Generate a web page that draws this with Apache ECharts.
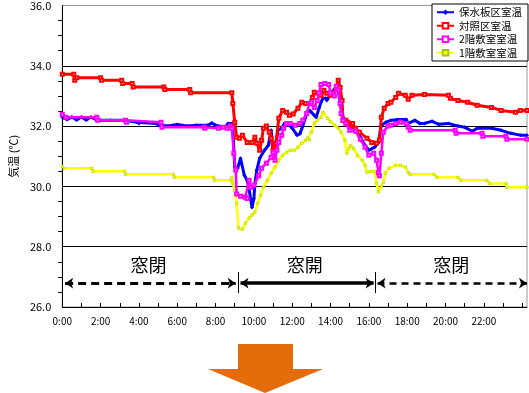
<!DOCTYPE html>
<html><head><meta charset="utf-8">
<script src="https://cdn.jsdelivr.net/npm/echarts@6/dist/echarts.min.js"></script>
<style>html,body{margin:0;padding:0;background:#fff}#c{width:529px;height:393px}</style>
</head><body><div id="c"></div><script>
// ---- data ----
const seriesNames = ['保水板区室温', '対照区室温', '2階敷室室温', '1階敷室室温'];
const yAxisName = '気温 (℃)';

const blueT = [0,0.25,0.5,0.75,1,1.25,1.5,1.75, 2,2.5,3.25,3.3,3.9,4,4.9,5, 5.5,6,6.5,7,7.6,7.8,8,8.3,
  8.5,8.65,8.85,8.9,9,9.15,9.3,9.5, 9.65,9.75,9.9,10,10.05,10.15,10.3,10.55, 10.75,10.9,11,11.05,11.25,11.45,11.6,11.75,
  12,12.25,12.4,12.55,12.75,12.9,13,13.15, 13.25,13.4,13.5,13.6,13.75,13.8,14.05,14.25, 14.4,14.5,14.65,14.75,15,15.3,15.55,15.8,
  16,16.15,16.3,16.5,16.65,16.9,17.15,17.5, 17.95,18.05,18.4,18.65,18.9,19.3,19.65,20.15, 20.65,21,21.4,21.65,22.4,22.9,23.4,23.9, 24.25];
const blueV = [32.29,32.22,32.3,32.2,32.3,32.2,32.3,32.22, 32.19,32.19,32.19,32.13,32.13,32.09,32.09,32.03, 32.0,32.05,32.0,32.03,32.03,32.1,32.03,31.98,
  31.96,32.09,32.09,31.9,30.64,30.6,30.93,30.37, 30.2,29.9,29.3,29.6,30.1,30.54,30.93,31.2, 31.36,31.86,31.13,30.9,31.86,31.93,32.09,32.09,
  31.93,31.7,31.75,32.0,32.4,32.52,32.46,32.36, 32.29,32.6,32.79,32.92,32.92,32.85,33.12,33.25, 33.2,32.75,32.29,32.09,31.96,31.93,31.63,31.36,
  31.2,31.25,31.3,31.46,32.03,32.13,32.19,32.22, 32.22,32.09,32.19,32.09,32.09,32.16,32.06,32.09, 32.0,31.96,31.83,31.93,31.93,31.86,31.76,31.7, 31.7];

const redT = [0,0.6,0.65,0.75,2.0,2.05,3.1,3.15, 3.65,3.7,5.3,5.35,6.65,6.7,8.85,8.9, 9.0,9.1,9.25,9.4,9.65,9.9,10.05,10.15,
  10.3,10.4,10.5,10.65,10.8,10.9,11.0,11.05, 11.15,11.3,11.5,11.7,11.85,12.05,12.3,12.5, 12.7,12.9,13.05,13.15,13.35,13.5,13.65,13.8,
  14.0,14.15,14.3,14.4,14.5,14.6,14.65,14.8, 14.9,15.05,15.15,15.3,15.5,15.9,16.15,16.4, 16.55,16.65,16.8,17.0,17.15,17.4,17.55,17.9,
  18.05,18.25,18.9,20.15,20.25,20.65,21.15,21.65, 22.4,22.9,23.65,23.9,24.25];
const redV = [33.72,33.72,33.52,33.6,33.6,33.52,33.52,33.41, 33.41,33.3,33.3,33.21,33.21,33.11,33.11,32.75, 32.13,31.63,31.6,31.7,31.46,31.46,31.63,31.43,
  31.2,31.53,31.93,32.0,31.8,31.6,31.2,30.97, 31.43,32.26,32.52,32.46,32.36,32.4,32.59,32.79, 32.75,32.75,32.95,33.12,33.09,33.02,33.19,33.09,
  33.02,33.09,33.28,33.52,33.28,32.85,32.19,32.19, 32.13,32.03,32.09,31.93,31.8,31.6,31.46,31.43, 31.53,32.29,32.59,32.75,32.79,32.95,33.09,33.02,
  32.89,33.02,33.05,33.02,32.92,32.85,32.79,32.69, 32.62,32.52,32.46,32.52,32.52];

const magentaT = [0,0.2,1.8,1.85,3.3,3.35,5.15,5.2, 7.4,7.45,8.15,8.4,8.6,8.75,8.85,8.95, 9.05,9.1,9.3,9.55,9.65,9.75,9.85,10.0,
  10.25,10.4,10.65,10.9,11.0,11.1,11.2,11.3, 11.45,11.55,11.7,11.9,12.15,12.4,12.55,12.75, 12.9,13.0,13.15,13.3,13.4,13.5,13.7,13.9,
  14.0,14.2,14.3,14.4,14.5,14.55,14.65,14.8, 15.0,15.3,15.55,15.8,16.0,16.25,16.4,16.5, 16.55,16.65,16.75,17.0,17.15,17.4,17.65,17.95,
  18.05,18.15,20.5,20.55,21.9,21.95,23.15,23.2, 24.25];
const magentaV = [32.39,32.29,32.29,32.19,32.19,32.13,32.13,31.96, 31.96,31.93,31.93,31.96,31.93,32.0,31.93,31.1, 30.54,29.75,29.67,29.64,29.6,30.2,29.97,30.04,
  30.35,30.6,30.77,30.97,31.13,30.87,31.2,31.46, 31.7,31.93,32.09,32.09,32.03,32.09,32.19,32.42, 32.75,32.79,32.62,32.85,33.1,33.38,33.41,33.38,
  33.1,33.0,33.32,33.2,32.75,32.42,32.19,32.09, 31.86,31.83,31.56,31.3,31.03,31.1,30.87,30.45, 30.35,31.1,31.8,32.0,32.03,32.09,32.13,32.09,
  31.96,31.86,31.86,31.76,31.76,31.66,31.66,31.56, 31.56];

const yellowT = [0,0.1,1.55,1.6,3.25,3.3,5.8,5.85, 7.9,7.95,8.8,8.85,8.9,9.0,9.1,9.2, 9.4,9.55,9.75,9.9,10.05,10.2,10.35,10.5,
  10.7,10.9,11.1,11.3,11.5,11.7,11.9,12.1, 12.3,12.5,12.7,12.8,12.9,13.0,13.15,13.3, 13.5,13.6,13.85,14.0,14.2,14.4,14.55,14.75,
  14.85,14.95,15.05,15.2,15.4,15.65,15.8,15.9, 16.1,16.3,16.4,16.5,16.65,16.75,16.85,17.05, 17.4,17.65,17.9,18.05,18.15,19.4,19.55,20.65,
  20.8,22.15,22.3,23.15,23.2,24.25];
const yellowV = [30.67,30.6,30.6,30.5,30.5,30.4,30.4,30.3, 30.3,30.2,30.2,30.3,30.1,29.87,29.44,28.62, 28.58,28.78,28.95,29.05,29.15,29.44,29.71,29.97,
  30.2,30.44,30.64,30.87,31.03,31.13,31.2,31.2, 31.3,31.43,31.53,31.6,31.55,31.8,32.09,32.19, 32.29,32.46,32.26,32.15,32.03,31.93,31.8,31.53,
  31.1,31.25,31.36,31.26,31.03,30.87,30.7,30.47, 30.5,30.5,30.1,29.82,30.0,30.14,30.44,30.6, 30.7,30.7,30.64,30.47,30.4,30.4,30.3,30.3,
  30.2,30.2,30.1,30.1,29.97,29.97];

// window state annotation (hours)
const windowLabels = ['窓閉', '窓開', '窓閉'];
const windowLabelT = [4.5, 12.65, 20.3];
const windowLabelY = 27.39;
const periodStart = [0.15, 9.3, 16.45];
const periodEnd = [9.05, 16.25, 24.25];
const periodArrowY = 26.79;
const dividerT = [9.2, 16.35];

// ---- chart ----
const FONT = '"Noto Sans CJK JP", "Noto Sans", sans-serif';
const pairs = (t, v) => t.map((x, i) => [x, v[i]]);

const arrowStyles = [
  {color: '#000', width: 3, type: [8, 5]},
  {color: '#000', width: 3.5, type: 'solid'},
  {color: '#000', width: 2.5, type: [7, 5]}
];
const markLineData = periodStart.map((s, i) => [
  {coord: [s, periodArrowY], symbol: 'arrow', symbolSize: 8, lineStyle: arrowStyles[i]},
  {coord: [periodEnd[i], periodArrowY], symbol: 'arrow', symbolSize: 8}
]).concat(dividerT.map(d => [
  {coord: [d, 26.46], symbol: 'none', lineStyle: {color: '#000', width: 1, type: 'solid'}},
  {coord: [d, 27.16], symbol: 'none'}
]));
const markPointData = windowLabels.map((l, i) => ({name: l, coord: [windowLabelT[i], windowLabelY]}));

const chart = echarts.init(document.getElementById('c'), null, {renderer: 'canvas'});
chart.setOption({
  animation: false,
  backgroundColor: '#fff',
  textStyle: {fontFamily: FONT},
  grid: {left: 41, right: 2, top: 4, bottom: 86, show: true, borderColor: '#999', borderWidth: 1},
  legend: {
    data: seriesNames, orient: 'vertical', right: 1, top: 4,
    backgroundColor: '#fff', borderColor: '#000', borderWidth: 1, borderRadius: 0,
    padding: [3, 6, 3, 4], itemGap: 3, itemWidth: 17, itemHeight: 7,
    textStyle: {fontSize: 10.5, color: '#000', fontFamily: FONT}
  },
  xAxis: {
    type: 'value', min: 0, max: 24.25, interval: 1,
    axisLine: {lineStyle: {color: '#000', width: 1}},
    axisTick: {inside: true, length: 4, lineStyle: {color: '#000'}},
    splitLine: {show: false},
    axisLabel: {
      fontSize: 10, color: '#000', margin: 9, fontFamily: FONT,
      showMaxLabel: false,
      formatter: v => (v % 2 === 0 && v < 24) ? (v + ':00') : ''
    }
  },
  yAxis: {
    type: 'value', min: 26, max: 36, interval: 2,
    name: yAxisName, nameLocation: 'middle', nameGap: 31, nameRotate: 90,
    nameTextStyle: {fontSize: 11, color: '#000', fontFamily: FONT},
    axisLine: {show: true, lineStyle: {color: '#000', width: 1}},
    axisTick: {show: false},
    minorTick: {show: true, splitNumber: 4, length: 4, lineStyle: {color: '#000'}},
    splitLine: {show: true, lineStyle: {color: ['#000', '#000', '#000', '#000', '#000', '#999'], width: 1}},
    axisLabel: {fontSize: 11, color: '#000', margin: 11, fontFamily: FONT, formatter: v => v.toFixed(1)}
  },
  series: [
    {name: seriesNames[0], type: 'line', data: pairs(blueT, blueV), color: '#0000FF',
     lineStyle: {width: 3}, symbol: 'diamond', symbolSize: 4, z: 3},
    {name: seriesNames[1], type: 'line', data: pairs(redT, redV), color: '#FF0000',
     lineStyle: {width: 3}, symbol: 'emptyRect', symbolSize: 3, z: 4},
    {name: seriesNames[2], type: 'line', data: pairs(magentaT, magentaV), color: '#FF00FF',
     lineStyle: {width: 2.5}, symbol: 'emptyRect', symbolSize: 3, z: 5},
    {name: seriesNames[3], type: 'line', data: pairs(yellowT, yellowV), color: '#99CC00',
     lineStyle: {width: 2.5}, symbol: 'rect', symbolSize: 2.5, itemStyle: {color: '#FFFF00', borderColor: '#99CC00', borderWidth: 0.5}, z: 2},
    {name: 'annotation', type: 'line', data: [], silent: true, z: 6,
     markLine: {silent: true, animation: false, label: {show: false}, emphasis: {disabled: true}, data: markLineData},
     markPoint: {silent: true, animation: false, symbol: 'circle', symbolSize: 1,
       itemStyle: {color: 'rgba(0,0,0,0)'},
       label: {show: true, position: 'inside', formatter: p => p.name, fontSize: 18, color: '#000', fontFamily: FONT},
       data: markPointData}
    }
  ],
  graphic: [{
    type: 'polygon', silent: true,
    shape: {points: [[238, 344], [293, 344], [293, 369], [323, 369], [265, 393], [208, 369], [238, 369]]},
    style: {fill: '#E46C0A'}
  }]
});
</script></body></html>
